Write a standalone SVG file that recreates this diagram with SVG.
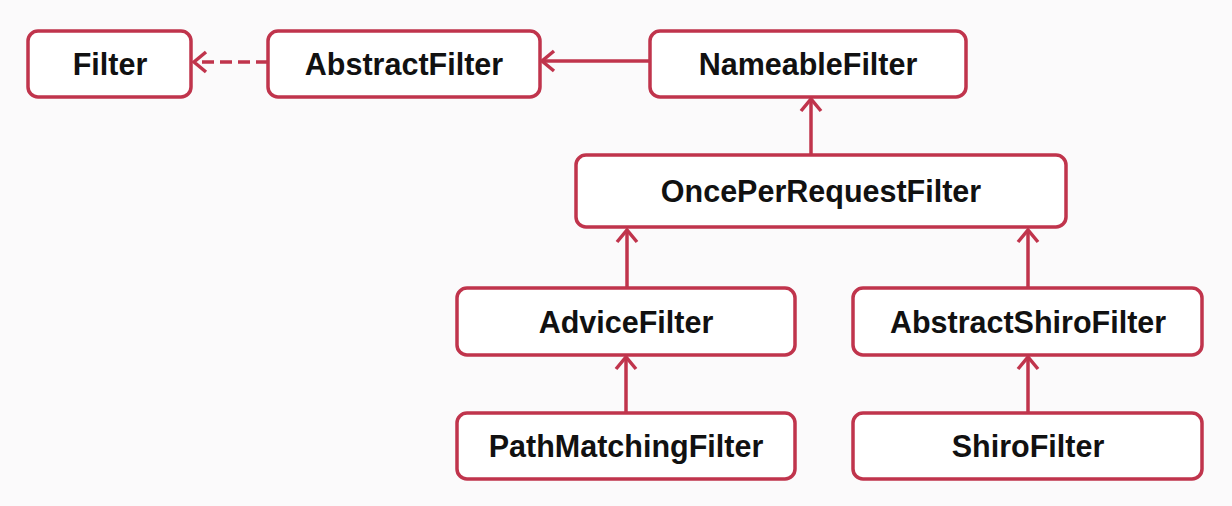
<svg xmlns="http://www.w3.org/2000/svg" width="1232" height="506" viewBox="0 0 1232 506">
<defs>
<style>
.box{fill:#ffffff;stroke:#c0344c;stroke-width:3.5}
.lbl{font-family:"Liberation Sans",Arial,sans-serif;font-weight:bold;font-size:30.5px;fill:#111;text-anchor:middle;dominant-baseline:central}
.con{stroke:#c0344c;stroke-width:3.5;fill:none}
.dash{stroke-dasharray:12 6}
</style>
<marker id="arr" markerWidth="20" markerHeight="24" viewBox="0 0 16 24" refX="14" refY="12" orient="auto" markerUnits="userSpaceOnUse">
<path d="M2,2 L14,12 L2,22" fill="none" stroke="#c0344c" stroke-width="3.5"/>
</marker>
</defs>
<rect width="1232" height="506" fill="#fbfafb"/>
<g id="connectors">
<line class="con dash" x1="268" y1="62" x2="194" y2="62" marker-end="url(#arr)"/>
<line class="con" x1="650" y1="61" x2="542" y2="61" marker-end="url(#arr)"/>
<line class="con" x1="811" y1="155" x2="811" y2="99" marker-end="url(#arr)"/>
<line class="con" x1="627" y1="288" x2="627" y2="230" marker-end="url(#arr)"/>
<line class="con" x1="1028" y1="288" x2="1028" y2="230" marker-end="url(#arr)"/>
<line class="con" x1="626" y1="413" x2="626" y2="357" marker-end="url(#arr)"/>
<line class="con" x1="1028" y1="413" x2="1028" y2="357" marker-end="url(#arr)"/>
</g>
<g id="Filter"><rect class="box" x="28" y="31" width="163" height="66" rx="10"/><text class="lbl" x="110" y="64">Filter</text></g>
<g id="AbstractFilter"><rect class="box" x="268" y="31" width="272" height="66" rx="10"/><text class="lbl" x="404" y="64">AbstractFilter</text></g>
<g id="NameableFilter"><rect class="box" x="650" y="31" width="316" height="66" rx="10"/><text class="lbl" x="808" y="64">NameableFilter</text></g>
<g id="OncePerRequestFilter"><rect class="box" x="576" y="155" width="490" height="72" rx="10"/><text class="lbl" x="821" y="191">OncePerRequestFilter</text></g>
<g id="AdviceFilter"><rect class="box" x="457" y="288" width="338" height="67" rx="10"/><text class="lbl" x="626" y="322">AdviceFilter</text></g>
<g id="AbstractShiroFilter"><rect class="box" x="853" y="288" width="349" height="67" rx="10"/><text class="lbl" x="1028" y="322">AbstractShiroFilter</text></g>
<g id="PathMatchingFilter"><rect class="box" x="457" y="413" width="338" height="66" rx="10"/><text class="lbl" x="626" y="446">PathMatchingFilter</text></g>
<g id="ShiroFilter"><rect class="box" x="853" y="413" width="349" height="66" rx="10"/><text class="lbl" x="1028" y="446">ShiroFilter</text></g>
</svg>
